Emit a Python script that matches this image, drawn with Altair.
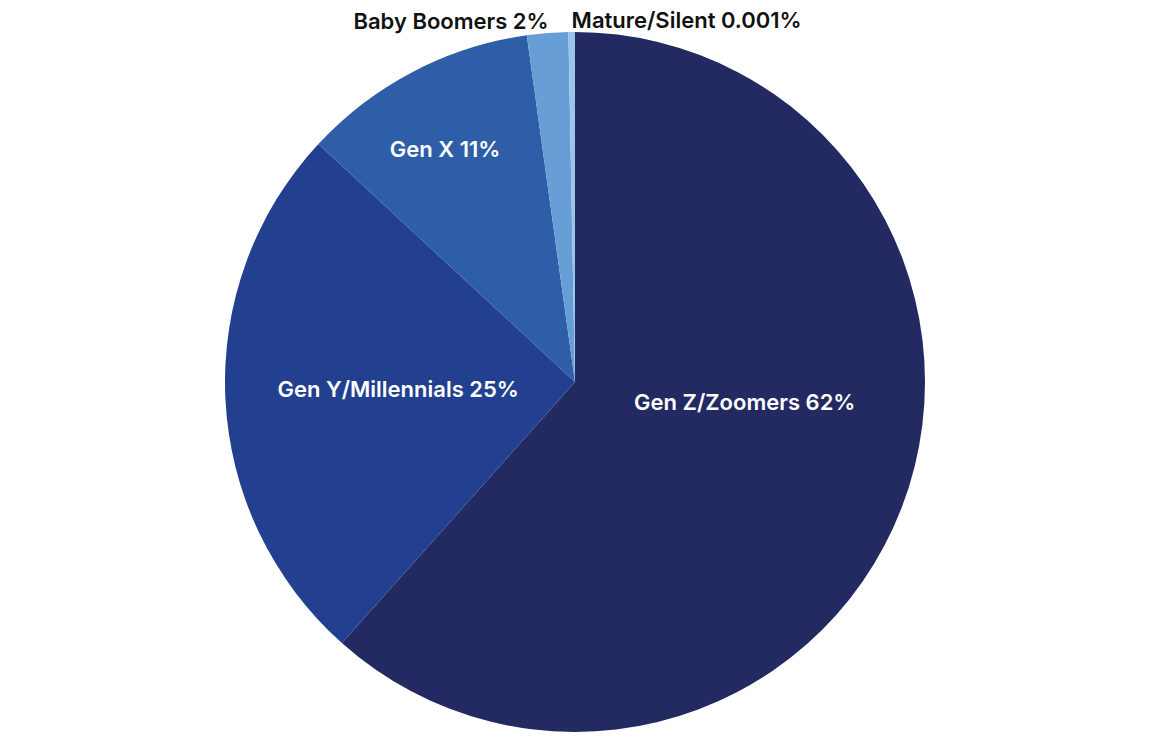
import altair as alt
import pandas as pd
import math

generations = ["Gen Z/Zoomers", "Gen Y/Millennials", "Gen X", "Baby Boomers", "Mature/Silent"]
shares = [61.6, 25.3, 10.9, 1.9, 0.3]
labels = ["Gen Z/Zoomers 62%", "Gen Y/Millennials 25%", "Gen X 11%", "Baby Boomers 2%", "Mature/Silent 0.001%"]
colors = ["#232a62", "#22408f", "#2e5ea8", "#679ed5", "#9cc3ea"]

df = pd.DataFrame({
    "gen": generations,
    "share": shares,
    "label": labels,
    "order": list(range(len(generations))),
})

FONT = "Inter"
TOTAL = sum(shares)
theta_scale = alt.Scale(domain=[0, TOTAL], range=[0, 2 * math.pi])

stacked = alt.Chart(df).transform_stack(
    stack="share", groupby=[], as_=["s0", "s1"], sort=[alt.SortField("order")]
).transform_calculate(mid="(datum.s0 + datum.s1) / 2")

arcs = stacked.mark_arc(stroke=None).encode(
    theta=alt.Theta("s0:Q", scale=theta_scale, stack=False),
    theta2="s1:Q",
    color=alt.Color("gen:N", scale=alt.Scale(domain=generations, range=colors), legend=None),
)

def lbl(name, radius, color, align="center", dx=0, dy=0):
    return stacked.transform_filter(alt.datum.gen == name).mark_text(
        radius=radius, font=FONT, fontSize=22, fontWeight=600, color=color,
        align=align, baseline="middle", dx=dx, dy=dy,
    ).encode(
        theta=alt.Theta("mid:Q", scale=theta_scale, stack=False),
        text="label:N",
    )

chart = alt.layer(
    arcs,
    lbl("Gen Z/Zoomers", 171, "white", dx=10, dy=-40),
    lbl("Gen Y/Millennials", 177, "white"),
    lbl("Gen X", 268, "white", dx=-6, dy=6),
    lbl("Baby Boomers", 361, "#111111", align="right", dx=2),
    lbl("Mature/Silent", 361, "#111111", align="left"),
).properties(
    width=700, height=700,
    autosize=alt.AutoSizeParams(type="none"),
    padding={"left": 217, "right": 217, "top": 24, "bottom": 10},
).configure_view(stroke=None).configure(background="white")

chart.save("out.html", embed_options={"renderer": "svg", "actions": False})
